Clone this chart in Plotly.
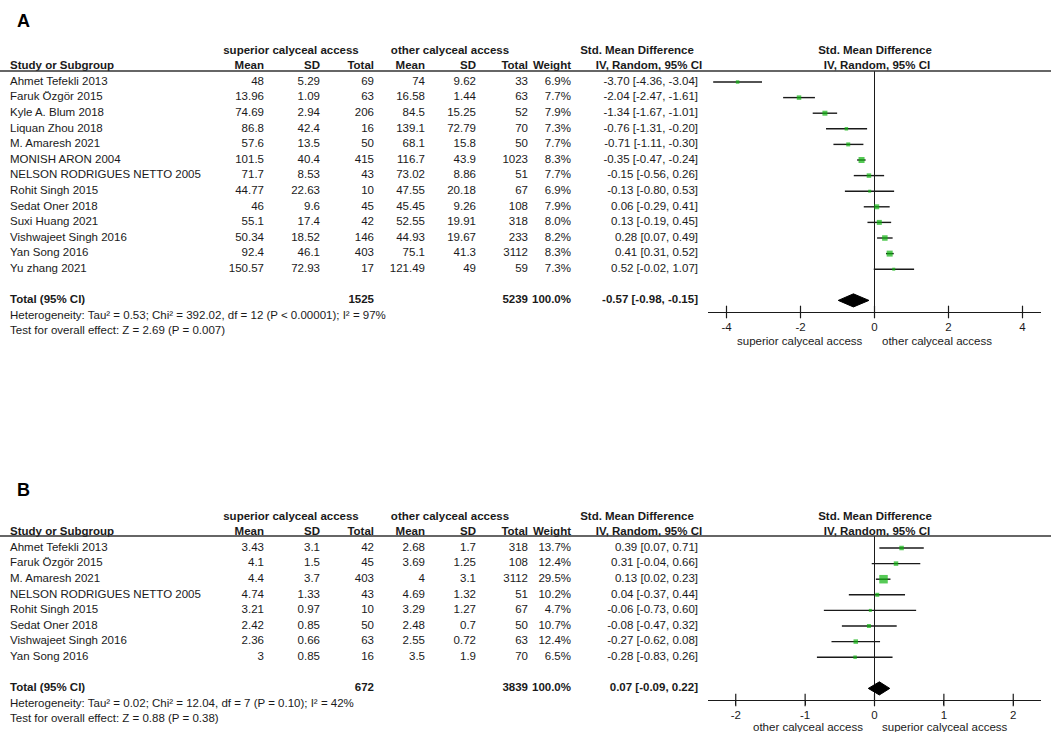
import plotly.graph_objects as go

# ---------------- panel A ----------------
studies_a = ["Ahmet Tefekli 2013", "Faruk Özgör 2015", "Kyle A. Blum 2018", "Liquan Zhou 2018",
             "M. Amaresh 2021", "MONISH ARON 2004", "NELSON RODRIGUES NETTO 2005", "Rohit Singh 2015",
             "Sedat Oner 2018", "Suxi Huang 2021", "Vishwajeet Singh 2016", "Yan Song 2016", "Yu zhang 2021"]
sup_mean_a = [48, 13.96, 74.69, 86.8, 57.6, 101.5, 71.7, 44.77, 46, 55.1, 50.34, 92.4, 150.57]
sup_sd_a = [5.29, 1.09, 2.94, 42.4, 13.5, 40.4, 8.53, 22.63, 9.6, 17.4, 18.52, 46.1, 72.93]
sup_n_a = [69, 63, 206, 16, 50, 415, 43, 10, 45, 42, 146, 403, 17]
oth_mean_a = [74, 16.58, 84.5, 139.1, 68.1, 116.7, 73.02, 47.55, 45.45, 52.55, 44.93, 75.1, 121.49]
oth_sd_a = [9.62, 1.44, 15.25, 72.79, 15.8, 43.9, 8.86, 20.18, 9.26, 19.91, 19.67, 41.3, 49]
oth_n_a = [33, 63, 52, 70, 50, 1023, 51, 67, 108, 318, 233, 3112, 59]
weight_a = [6.9, 7.7, 7.9, 7.3, 7.7, 8.3, 7.7, 6.9, 7.9, 8.0, 8.2, 8.3, 7.3]
smd_a = [-3.70, -2.04, -1.34, -0.76, -0.71, -0.35, -0.15, -0.13, 0.06, 0.13, 0.28, 0.41, 0.52]
lo_a = [-4.36, -2.47, -1.67, -1.31, -1.11, -0.47, -0.56, -0.80, -0.29, -0.19, 0.07, 0.31, -0.02]
hi_a = [-3.04, -1.61, -1.01, -0.20, -0.30, -0.24, 0.26, 0.53, 0.41, 0.45, 0.49, 0.52, 1.07]
total_a = [1525, 5239, 100.0, -0.57, -0.98, -0.15]   # n sup, n other, weight, smd, lo, hi
het_a = "Heterogeneity: Tau² = 0.53; Chi² = 392.02, df = 12 (P < 0.00001); I² = 97%"
test_a = "Test for overall effect: Z = 2.69 (P = 0.007)"
ticks_a = [-4, -2, 0, 2, 4]
favours_a = ["superior calyceal access", "other calyceal access"]

# ---------------- panel B ----------------
studies_b = ["Ahmet Tefekli 2013", "Faruk Özgör 2015", "M. Amaresh 2021", "NELSON RODRIGUES NETTO 2005",
             "Rohit Singh 2015", "Sedat Oner 2018", "Vishwajeet Singh 2016", "Yan Song 2016"]
sup_mean_b = [3.43, 4.1, 4.4, 4.74, 3.21, 2.42, 2.36, 3]
sup_sd_b = [3.1, 1.5, 3.7, 1.33, 0.97, 0.85, 0.66, 0.85]
sup_n_b = [42, 45, 403, 43, 10, 50, 63, 16]
oth_mean_b = [2.68, 3.69, 4, 4.69, 3.29, 2.48, 2.55, 3.5]
oth_sd_b = [1.7, 1.25, 3.1, 1.32, 1.27, 0.7, 0.72, 1.9]
oth_n_b = [318, 108, 3112, 51, 67, 50, 63, 70]
weight_b = [13.7, 12.4, 29.5, 10.2, 4.7, 10.7, 12.4, 6.5]
smd_b = [0.39, 0.31, 0.13, 0.04, -0.06, -0.08, -0.27, -0.28]
lo_b = [0.07, -0.04, 0.02, -0.37, -0.73, -0.47, -0.62, -0.83]
hi_b = [0.71, 0.66, 0.23, 0.44, 0.60, 0.32, 0.08, 0.26]
total_b = [672, 3839, 100.0, 0.07, -0.09, 0.22]
het_b = "Heterogeneity: Tau² = 0.02; Chi² = 12.04, df = 7 (P = 0.10); I² = 42%"
test_b = "Test for overall effect: Z = 0.88 (P = 0.38)"
ticks_b = [-2, -1, 0, 1, 2]
favours_b = ["other calyceal access", "superior calyceal access"]

# styling
W, H = 1051, 732
FONT = "Liberation Sans, Arial, sans-serif"
FS = 11.5
INK = "#1a1a1a"
GREEN = "#10b410"
box_a = [3.5, 4.5, 5, 3.5, 4, 6, 4.5, 3, 5, 5, 5.5, 6, 3]   # square sizes
box_b = [4.5, 4.5, 8.5, 4, 3, 4, 4.5, 3.5]
DY = 15.6
COLS = [264, 320, 374, 425, 476, 528, 571, 698]  # right edges of the numeric columns (px)


def py(p):
    return 1 - p / H


def fmt(v):
    return f"{v:g}"


def text_col(fig, x, rows, labels, pos, ya, bold=False):
    if bold:
        labels = [f"<b>{t}</b>" for t in labels]
    fig.add_trace(go.Scatter(x=[x] * len(rows), y=rows, text=labels, mode="text",
                             textposition=pos, textfont=dict(family=FONT, size=FS, color=INK),
                             xaxis="x3", yaxis=ya, hoverinfo="skip", cliponaxis=False))


def panel(fig, g, studies, cols, weight, smd, lo, hi, total, het, test, box, favours, ticks):
    n = len(studies)
    rows = list(range(n))
    tr = n + 1
    ta, fx, fy = g["ta"], g["fx"], g["fy"]

    # column headers
    text_col(fig, 291, [-2], ["superior calyceal access"], "middle center", ta, True)
    text_col(fig, 450, [-2], ["other calyceal access"], "middle center", ta, True)
    text_col(fig, 637, [-2], ["Std. Mean Difference"], "middle center", ta, True)
    text_col(fig, 875, [-2], ["Std. Mean Difference"], "middle center", ta, True)
    text_col(fig, 10, [-1], ["Study or Subgroup"], "middle right", ta, True)
    for x, h in zip(COLS[:7], ["Mean", "SD", "Total", "Mean", "SD", "Total", "Weight"]):
        text_col(fig, x, [-1], [h], "middle left", ta, True)
    text_col(fig, 649, [-1], ["IV, Random, 95% CI"], "middle center", ta, True)
    text_col(fig, 877, [-1], ["IV, Random, 95% CI"], "middle center", ta, True)

    # study rows
    text_col(fig, 10, rows, studies, "middle right", ta)
    for x, c in zip(COLS[:6], cols):
        text_col(fig, x, rows, [fmt(v) for v in c], "middle left", ta)
    text_col(fig, COLS[6], rows, [f"{w:.1f}%" for w in weight], "middle left", ta)
    text_col(fig, COLS[7], rows, [f"{s:.2f} [{l:.2f}, {h:.2f}]" for s, l, h in zip(smd, lo, hi)],
             "middle left", ta)

    # total + footnotes
    text_col(fig, 10, [tr], ["Total (95% CI)"], "middle right", ta, True)
    text_col(fig, COLS[2], [tr], [fmt(total[0])], "middle left", ta, True)
    text_col(fig, COLS[5], [tr], [fmt(total[1])], "middle left", ta, True)
    text_col(fig, COLS[6], [tr], [f"{total[2]:.1f}%"], "middle left", ta, True)
    text_col(fig, COLS[7], [tr], [f"{total[3]:.2f} [{total[4]:.2f}, {total[5]:.2f}]"], "middle left", ta, True)
    text_col(fig, 10, [tr + 1, tr + 2], [het, test], "middle right", ta)

    # forest: CI lines + weight squares
    fig.add_trace(go.Scatter(
        x=smd, y=rows, mode="markers", xaxis=fx, yaxis=fy, hoverinfo="skip",
        marker=dict(symbol="square", size=box, color=GREEN, line=dict(width=0)),
        error_x=dict(type="data", symmetric=False,
                     array=[h - s for s, h in zip(smd, hi)],
                     arrayminus=[s - l for s, l in zip(smd, lo)],
                     color=INK, thickness=1.4, width=0)))
    # pooled diamond
    hd = 0.42
    fig.add_trace(go.Scatter(
        x=[total[4], total[3], total[5], total[3], total[4]],
        y=[tr, tr - hd, tr, tr + hd, tr],
        mode="lines", fill="toself", fillcolor="black", line=dict(color="black", width=1),
        xaxis=fx, yaxis=fy, hoverinfo="skip"))
    # tick marks crossing the axis line
    axis_row = (g["axis"] - g["row0"]) / DY
    fig.add_trace(go.Scatter(
        x=ticks, y=[axis_row] * len(ticks), mode="markers", xaxis=fx, yaxis=fy,
        hoverinfo="skip", cliponaxis=False,
        marker=dict(symbol="line-ns", size=9, line=dict(width=1.2, color=INK))))

    # panel letter, header rule, favours captions
    fig.add_annotation(x=15 / W, y=py(g["label"]), xref="paper", yref="paper", text=f"<b>{g['letter']}</b>",
                       showarrow=False, xanchor="left", yanchor="middle",
                       font=dict(family=FONT, size=18, color="black"))
    fig.add_shape(type="line", xref="paper", yref="paper", x0=0, x1=1, y0=py(g["line"]), y1=py(g["line"]),
                  line=dict(color="#333", width=1.5))
    fig.add_annotation(x=0, y=py(g["cap"]), xref=fx, yref="paper", text=favours[0], showarrow=False,
                       xanchor="right", yanchor="middle", xshift=-10,
                       font=dict(family=FONT, size=FS, color=INK))
    fig.add_annotation(x=0, y=py(g["cap"]), xref=fx, yref="paper", text=favours[1], showarrow=False,
                       xanchor="left", yanchor="middle", xshift=5,
                       font=dict(family=FONT, size=FS, color=INK))


geo_a = dict(letter="A", row0=82, line=71, axis=312, top=40, bottom=352, label=21, cap=341,
             ta="y3", fx="x", fy="y")
geo_b = dict(letter="B", row0=548, line=536, axis=700, top=505, bottom=732, label=490, cap=727,
             ta="y4", fx="x2", fy="y2")

fig = go.Figure()
panel(fig, geo_a, studies_a, [sup_mean_a, sup_sd_a, sup_n_a, oth_mean_a, oth_sd_a, oth_n_a],
      weight_a, smd_a, lo_a, hi_a, total_a, het_a, test_a, box_a, favours_a, ticks_a)
panel(fig, geo_b, studies_b, [sup_mean_b, sup_sd_b, sup_n_b, oth_mean_b, oth_sd_b, oth_n_b],
      weight_b, smd_b, lo_b, hi_b, total_b, het_b, test_b, box_b, favours_b, ticks_b)


def forest_x(ticks, rng, anchor):
    return dict(domain=[708 / W, 1041 / W], range=rng, anchor=anchor, showgrid=False,
                zeroline=True, zerolinecolor=INK, zerolinewidth=1.2,
                showline=True, linecolor=INK, linewidth=1.2,
                ticks="outside", ticklen=4, tickwidth=1.2, tickcolor=INK,
                tickvals=ticks, ticktext=[str(t) for t in ticks],
                tickfont=dict(family=FONT, size=11.5, color=INK), fixedrange=True)


def row_y(g, top, bottom):
    return dict(domain=[py(bottom), py(top)],
                range=[(bottom - g["row0"]) / DY, (top - g["row0"]) / DY],
                visible=False, fixedrange=True)


fig.update_layout(
    width=W, height=H, margin=dict(l=0, r=0, t=0, b=0),
    paper_bgcolor="white", plot_bgcolor="rgba(0,0,0,0)", showlegend=False,
    font=dict(family=FONT, size=FS, color=INK),
    xaxis=forest_x(ticks_a, [-4.5, 4.5], "y"),
    yaxis=row_y(geo_a, geo_a["line"], geo_a["axis"]),
    xaxis2=forest_x(ticks_b, [-2.4, 2.4], "y2"),
    yaxis2=row_y(geo_b, geo_b["line"], geo_b["axis"]),
    xaxis3=dict(domain=[0, 1], range=[0, W], visible=False, anchor="y3", fixedrange=True),
    yaxis3=row_y(geo_a, geo_a["top"], geo_a["bottom"]),
    yaxis4=row_y(geo_b, geo_b["top"], geo_b["bottom"]),
)

fig.write_html("out.html", config={"displayModeBar": False},
               post_script="document.body.style.margin='0';")
